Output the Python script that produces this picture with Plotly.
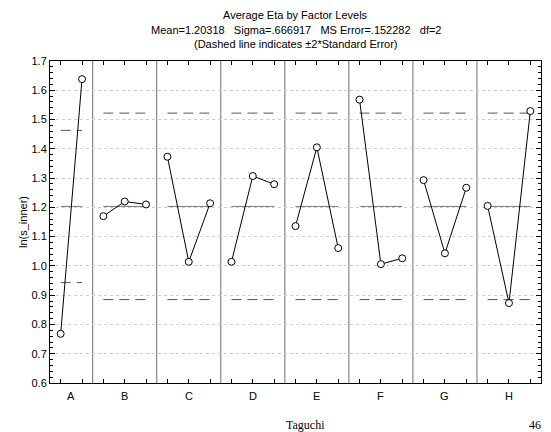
import plotly.graph_objects as go

# ---- data ----
factors = ["A", "B", "C", "D", "E", "F", "G", "H"]
level_values = [
    [0.768, 1.638],
    [1.170, 1.220, 1.210],
    [1.373, 1.014, 1.214],
    [1.014, 1.307, 1.279],
    [1.136, 1.405, 1.061],
    [1.568, 1.006, 1.026],
    [1.293, 1.043, 1.267],
    [1.205, 0.873, 1.529],
]
grand_mean = 1.20318
upper_limits = [1.463, 1.522, 1.522, 1.522, 1.522, 1.522, 1.522, 1.522]
lower_limits = [0.943, 0.885, 0.885, 0.885, 0.885, 0.885, 0.885, 0.885]
y_ticks = [0.6, 0.7, 0.8, 0.9, 1.0, 1.1, 1.2, 1.3, 1.4, 1.5, 1.6, 1.7]

fig = go.Figure()

total = sum(len(v) for v in level_values)
start = 0
centers = []
level_x_all = []
separators = []
for i, vals in enumerate(level_values):
    n = len(vals)
    xs = [start + k + 0.5 for k in range(n)]
    level_x_all += xs
    centers.append(start + n / 2)
    # mean line
    fig.add_trace(go.Scatter(x=[xs[0], xs[-1]], y=[grand_mean, grand_mean], mode="lines",
                             line=dict(color="#7a7a7a", width=1), hoverinfo="skip"))
    # +-2SE dashed lines
    for lim in (upper_limits[i], lower_limits[i]):
        fig.add_trace(go.Scatter(x=[xs[0], xs[-1]], y=[lim, lim], mode="lines",
                                 line=dict(color="#555555", width=1, dash="10px,6px"), hoverinfo="skip"))
    # data
    fig.add_trace(go.Scatter(x=xs, y=vals, mode="lines+markers",
                             line=dict(color="black", width=1),
                             marker=dict(symbol="circle", size=7, color="white",
                                         line=dict(color="black", width=1))))
    start += n
    if start < total:
        separators.append(start)

for s in separators:
    fig.add_shape(type="line", xref="x", yref="paper", x0=s, x1=s, y0=0, y1=1,
                  line=dict(color="#6e6e6e", width=1), layer="below")

annotations = []
for f, c in zip(factors, centers):
    annotations.append(dict(text=f, x=c, xref="x", y=0, yref="paper", yanchor="middle",
                            yshift=-13, showarrow=False, font=dict(size=11, color="black")))

titles = ["Average Eta by Factor Levels",
          "Mean=1.20318&nbsp;&nbsp;&nbsp;Sigma=.666917&nbsp;&nbsp;&nbsp;MS Error=.152282&nbsp;&nbsp;&nbsp;df=2",
          "(Dashed line indicates ±2*Standard Error)"]
for t, ys in zip(titles, [45.7, 31.4, 17.4]):
    annotations.append(dict(text=t, x=0.5, xref="paper", y=1, yref="paper", yanchor="middle",
                            yshift=ys, showarrow=False, font=dict(size=11, color="black")))

plot_l, plot_r = 49.5, 541.0
annotations.append(dict(text="ln(s_inner)", x=0, xref="paper", y=0.5, yref="paper",
                        xshift=-35, textangle=-90, showarrow=False,
                        font=dict(size=11, color="black")))
annotations.append(dict(text="Taguchi", x=(305 - plot_l) / (plot_r - plot_l), xref="paper",
                        y=0, yref="paper", yanchor="middle", showarrow=False, yshift=-42,
                        font=dict(family="Liberation Serif", size=12, color="black")))
annotations.append(dict(text="46", x=(543 - plot_l) / (plot_r - plot_l), xref="paper",
                        y=0, yref="paper", yanchor="middle", showarrow=False, yshift=-42,
                        font=dict(family="Liberation Serif", size=12, color="black")))

fig.update_layout(
    width=551, height=432,
    margin=dict(l=plot_l, r=551 - plot_r, t=60.7, b=48.7),
    paper_bgcolor="white", plot_bgcolor="white",
    showlegend=False,
    font=dict(family="Liberation Sans, Arial, sans-serif", size=11, color="black"),
    annotations=annotations,
    xaxis=dict(range=[0, total], tickvals=level_x_all, ticktext=[""] * len(level_x_all),
               ticks="inside", ticklen=4, tickcolor="black", showgrid=False, zeroline=False,
               showline=True, linecolor="black", linewidth=1, mirror="ticks", fixedrange=True),
    yaxis=dict(range=[0.6, 1.7], tickvals=y_ticks, ticktext=[f"{v:.1f}" for v in y_ticks],
               ticks="inside", ticklen=5, tickcolor="black",
               showgrid=True, gridcolor="#cccccc", griddash="dot", gridwidth=1,
               zeroline=False, showline=True, linecolor="black", linewidth=1, mirror="ticks",
               minor=dict(dtick=0.02, ticks="inside", ticklen=3, tickcolor="black", showgrid=False),
               tickfont=dict(size=11), fixedrange=True),
)

fig.write_html("out.html")
